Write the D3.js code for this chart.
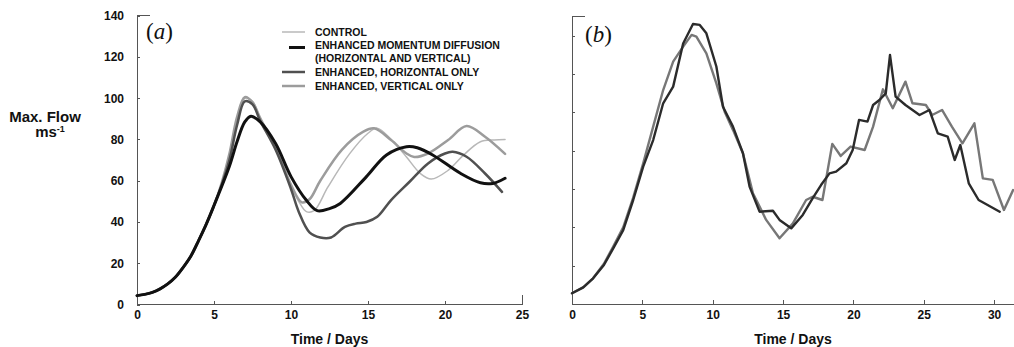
<!DOCTYPE html>
<html>
<head>
<meta charset="utf-8">
<script src="https://cdn.jsdelivr.net/npm/d3@7"></script>
<style>
  html, body { margin: 0; padding: 0; background: #fff; }
  svg { display: block; font-family: "Liberation Sans", Arial, sans-serif; }
  .tick text { font-weight: bold; font-size: 12px; fill: #111; }
  .axis path, .axis line { stroke: #555; shape-rendering: crispEdges; }
</style>
</head>
<body>
<svg id="chart" width="1014" height="347"></svg>
<script>
// panel (a): [day, max flow]
const controlSeries = [[0,4.3],[0.5,4.9],[1,5.9],[1.5,7.6],[2,10],[2.5,13.3],[3,18],[3.5,23.5],[4,31],[4.5,39],[5,48],[5.5,58],[6,71],[6.5,89],[7,100],[7.5,98.5],[8,91],[9,76],[10,58],[10.5,50],[11,45],[11.5,45.5],[12.4,57],[13.8,73],[15,83],[15.6,85.5],[16.5,80],[17.5,71.5],[18.4,63.5],[19.1,60.8],[20.2,65],[21.2,72.4],[22.3,78.9],[23.2,79.8],[23.9,80]]
const bothSeries = [[0,4.3],[0.5,4.9],[1,5.9],[1.5,7.6],[2,10],[2.5,13.3],[3,18],[3.5,23.5],[4,31],[4.5,39],[5,48],[6,67],[6.5,79],[7,88.5],[7.4,91.3],[8,88.5],[9,78],[10,62],[11,50.5],[11.7,45.5],[12.5,46.5],[13.2,49],[14.9,62],[16.2,72.5],[17.5,76.5],[18.2,76],[19.2,72.5],[21,63.6],[22.3,59],[23.1,58.7],[23.9,61.2]]
const horizSeries = [[0,4.3],[0.5,4.9],[1,5.9],[1.5,7.6],[2,10],[2.5,13.3],[3,18],[3.5,23.5],[4,31],[4.5,39],[5,48],[5.5,58],[6,70],[6.5,87],[7,98.5],[7.5,97],[8,89],[9,75],[10,56],[10.5,45],[11.2,35],[11.9,32.5],[12.6,32.5],[13.5,37.6],[14.2,39.2],[14.9,40],[15.6,42.5],[16.5,50.6],[17.7,59.5],[18.9,68.4],[20,73.2],[20.5,74],[21.4,71.6],[22.6,63.5],[23.7,54.6]]
const vertSeries = [[0,4.3],[0.5,4.9],[1,5.9],[1.5,7.6],[2,10],[2.5,13.3],[3,18],[3.5,23.5],[4,31],[4.5,39],[5,48],[5.5,59],[6,73],[6.5,91],[7,100.5],[7.5,98],[8,90],[9,76],[10,58],[10.7,49.5],[11.2,51],[11.9,60],[13.3,75],[14.7,83.8],[15.4,85.4],[16.5,79.7],[17.5,73.2],[18,71.5],[18.9,73.2],[20.2,79.7],[21.4,86.5],[22.6,81.3],[23.9,73]]

// panel (b): [day, max flow]
const darkSeriesB = [[0,5.6],[0.8,8.7],[1.5,13.4],[2.27,20.4],[2.93,29],[3.64,38.6],[4.35,54.3],[5.06,71.7],[5.77,85.6],[6.48,104.8],[7.19,113.5],[7.9,136],[8.6,146.2],[9.08,145.7],[9.55,141.3],[10.26,124],[10.73,103],[11.44,92.6],[12.15,78.7],[12.62,61.3],[13.33,48.2],[14.28,48.7],[14.75,43.9],[15.58,39.5],[16.4,46.5],[17.1,55.2],[17.7,62.1],[18.3,68.2],[18.77,69.1],[19.5,73.5],[19.95,80.4],[20.4,96.1],[21,95.2],[21.4,103.9],[21.85,106.5],[22.3,110],[22.6,130],[23,108.3],[23.7,103.9],[24.7,98.7],[25.4,101.3],[26,89.1],[26.7,87.4],[27.2,75.2],[27.6,83],[28.2,63],[28.9,54.3],[30.4,48.2]]
const graySeriesB = [[0,5.6],[0.8,8.7],[1.5,13.4],[2.27,21],[2.93,30],[3.64,40],[4.35,55.5],[5.06,73.5],[5.77,92.6],[6.48,111.7],[7.19,126.5],[7.9,134.4],[8.5,140.5],[8.84,139.6],[9.55,130.9],[10.26,115.2],[10.85,100.4],[11.44,90.9],[12.15,78.7],[12.86,57.8],[13.8,43.9],[14.75,34.3],[15.7,42.1],[16.64,54.3],[17.1,56],[17.8,54.3],[18.5,83.6],[19.1,77.3],[19.8,82.2],[20.8,80.4],[21.4,92.6],[22.1,112.1],[22.8,102.2],[23.7,116.1],[24.2,104.8],[25.15,103.9],[25.6,98.7],[26.3,101.3],[27,92.6],[27.75,83.9],[28.6,94.3],[29.2,65.6],[29.9,64.8],[30.7,49.1],[31.35,59.5]]

const yTicksA = [0, 20, 40, 60, 80, 100, 120, 140]
const yTicksB = [20, 40, 60, 80, 100, 120, 140]
const xTicksA = [0, 5, 10, 15, 20, 25]
const xTicksB = [0, 5, 10, 15, 20, 25, 30]

const legendLabels = [
  ["CONTROL"],
  ["ENHANCED MOMENTUM DIFFUSION", "(HORIZONTAL AND VERTICAL)"],
  ["ENHANCED, HORIZONTAL ONLY"],
  ["ENHANCED, VERTICAL ONLY"]
]

const styleA = [
  { data: controlSeries, color: "#b8b8b8", width: 1.5 },
  { data: vertSeries, color: "#9c9c9c", width: 2.5 },
  { data: horizSeries, color: "#505050", width: 2.5 },
  { data: bothSeries, color: "#111", width: 3 }
]
const styleB = [
  { data: graySeriesB, color: "#777", width: 2.4 },
  { data: darkSeriesB, color: "#2b2b2b", width: 2.4 }
]

const svg = d3.select("#chart")

const drawPanel = ({ x, y, xTicks, yTicks, showYLabels, series, curve, xEndTick }) => {
  const g = svg.append("g")
  const [x0, x1] = x.range()
  const [yb, yt] = y.range()

  const yAxis = g.append("g")
    .attr("class", "axis")
    .attr("transform", `translate(${x0},0)`)
    .call(d3.axisLeft(y).tickValues(yTicks).tickSize(-3).tickSizeOuter(0).tickPadding(13)
      .tickFormat(showYLabels ? d3.format("d") : ""))
  yAxis.select(".domain").attr("d", `M0,${yb}V${yt}H13`).attr("fill", "none")

  const xAxis = g.append("g")
    .attr("class", "axis")
    .attr("transform", `translate(0,${yb})`)
    .call(d3.axisBottom(x).tickValues(xTicks).tickSize(-4).tickSizeOuter(0).tickPadding(6))
  xAxis.select(".domain").attr("d", `M${x0},0H${x1}`)
  xAxis.selectAll(".tick line").filter(d => d === 0).remove()
  if (xEndTick) {
    xAxis.selectAll(".tick line").filter(d => d === xEndTick).attr("y2", -10)
  }

  const line = d3.line()
    .x(d => x(d[0]))
    .y(d => y(d[1]))
    .curve(curve)

  g.append("g").selectAll("path")
    .data(series)
    .join("path")
      .attr("d", d => line(d.data))
      .attr("fill", "none")
      .attr("stroke", d => d.color)
      .attr("stroke-width", d => d.width)
      .attr("stroke-linejoin", "round")
      .attr("stroke-linecap", "round")

  g.append("text")
    .attr("x", (x0 + x1) / 2)
    .attr("y", 344)
    .attr("text-anchor", "middle")
    .attr("font-weight", "bold")
    .attr("font-size", 14)
    .attr("fill", "#111")
    .text("Time / Days")
}

// panel (a)
const xA = d3.scaleLinear().domain([0, 25]).range([137, 522])
const yA = d3.scaleLinear().domain([0, 140]).range([304.5, 15.7])
drawPanel({ x: xA, y: yA, xTicks: xTicksA, yTicks: yTicksA, showYLabels: true, series: styleA, curve: d3.curveCatmullRom.alpha(0.5), xEndTick: 25 })

// panel (b)
const xB = d3.scaleLinear().domain([0, 442 / 14.07]).range([572, 1014])
const yB = d3.scaleLinear().domain([0, 150]).range([304, 16.7])
drawPanel({ x: xB, y: yB, xTicks: xTicksB, yTicks: yTicksB, showYLabels: false, series: styleB, curve: d3.curveLinear })

// panel letters
const letter = (x, y, t) => {
  const txt = svg.append("text")
    .attr("x", x).attr("y", y)
    .attr("font-family", "'Liberation Serif', 'Times New Roman', serif")
    .attr("font-size", 23)
    .attr("fill", "#111")
  txt.append("tspan").text("(")
  txt.append("tspan").attr("font-style", "italic").text(t)
  txt.append("tspan").text(")")
}
letter(146, 39, "a")
letter(585, 42, "b")

// y label
svg.append("text")
  .attr("x", 45).attr("y", 122)
  .attr("text-anchor", "middle")
  .attr("font-weight", "bold").attr("font-size", 15).attr("fill", "#111")
  .text("Max. Flow")
const unit = svg.append("text")
  .attr("x", 50).attr("y", 137)
  .attr("text-anchor", "middle")
  .attr("font-weight", "bold").attr("font-size", 15).attr("fill", "#111")
unit.append("tspan").text("ms")
unit.append("tspan").attr("font-size", 9).attr("dy", -5).text("-1")

// legend
const legend = svg.append("g").attr("transform", "translate(282,0)")
const legendY = [32, 45, 72, 86]
const legendStyles = [styleA[0], styleA[3], styleA[2], styleA[1]]
legendLabels.forEach((lines, i) => {
  const s = legendStyles[i]
  const ly = i === 1 ? legendY[i] + 2.5 : legendY[i]
  legend.append("line")
    .attr("x1", i === 1 ? 7 : 0).attr("x2", 23)
    .attr("y1", ly).attr("y2", ly)
    .attr("stroke", s.color).attr("stroke-width", s.width)
  lines.forEach((t, j) => {
    legend.append("text")
      .attr("x", 33).attr("y", legendY[i] + j * 13 + 4)
      .attr("font-weight", "bold").attr("font-size", 10.5).attr("fill", "#111")
      .text(t)
  })
})
</script>
</body>
</html>
